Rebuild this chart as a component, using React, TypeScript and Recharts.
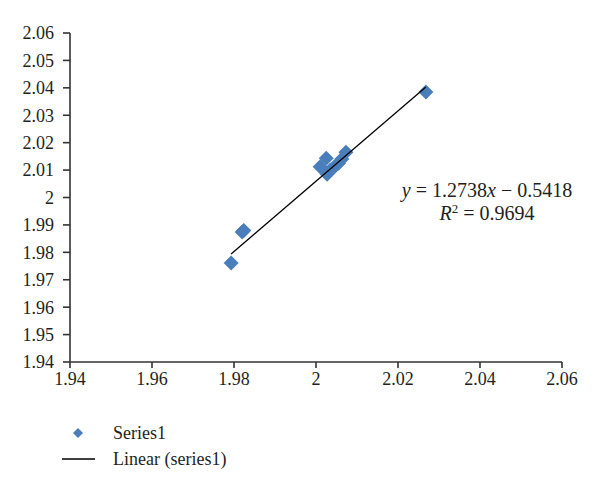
import React from "react";
import { ScatterChart, Scatter, XAxis, YAxis, Legend } from "recharts";

const xValues = [1.9793, 1.982, 1.9824, 2.001, 2.0025, 2.0027, 2.0035, 2.0045, 2.0055, 2.0063, 2.0073, 2.0268];
const yValues = [1.9761, 1.9874, 1.988, 2.0112, 2.0143, 2.0085, 2.01, 2.0112, 2.0125, 2.014, 2.0165, 2.0385];

// trend line end points
const trendX = [1.9793, 2.0268];
const trendY = [1.9794, 2.0403];

const xTicks = [1.94, 1.96, 1.98, 2, 2.02, 2.04, 2.06];
const yTicks = [1.94, 1.95, 1.96, 1.97, 1.98, 1.99, 2, 2.01, 2.02, 2.03, 2.04, 2.05, 2.06];

const seriesName = "Series1";
const trendName = "Linear (series1)";
const equation = ["y", " = 1.2738", "x", " \u2212 0.5418"];
const rSquared = "0.9694";

const BLUE = "#4a7ebb";
const AXIS = "#333333";
const FONT = "'Liberation Serif', 'DejaVu Serif', serif";

const points = xValues.map((x, i) => ({ x, y: yValues[i] }));
const trend = trendX.map((x, i) => ({ x, y: trendY[i] }));

const fmt = (v: number) => String(Number(v.toFixed(2)));

const Diamond = (props: any) => {
  const { cx, cy } = props;
  if (cx == null || cy == null) return <g />;
  const r = 7.5;
  return (
    <polygon
      points={`${cx},${cy - r} ${cx + r},${cy} ${cx},${cy + r} ${cx - r},${cy}`}
      fill={BLUE}
    />
  );
};

const NoDot = () => <g />;

const LegendBox = () => (
  <div style={{ fontFamily: FONT, fontSize: 18, color: "#231f20", lineHeight: "26px" }}>
    <div style={{ display: "flex", alignItems: "center" }}>
      <svg width={46} height={26}>
        <polygon points="16,8 21,13 16,18 11,13" fill={BLUE} />
      </svg>
      <span style={{ marginLeft: 5 }}>{seriesName}</span>
    </div>
    <div style={{ display: "flex", alignItems: "center" }}>
      <svg width={46} height={26}>
        <line x1={0} y1={13} x2={33} y2={13} stroke="#000" strokeWidth={1.3} />
      </svg>
      <span style={{ marginLeft: 5 }}>{trendName}</span>
    </div>
  </div>
);

export default function App() {
  return (
    <div style={{ position: "absolute", left: 0, top: 0, width: 600, height: 490, background: "#fff" }}>
      <ScatterChart width={600} height={490} margin={{ top: 33, right: 38, left: 0, bottom: 98 }}>
        <XAxis
          type="number"
          dataKey="x"
          domain={[1.94, 2.06]}
          ticks={xTicks}
          tickFormatter={fmt}
          height={30}
          tickSize={6}
          tickMargin={4}
          stroke={AXIS}
          strokeWidth={1.6}
          tick={{ fill: "#231f20", fontSize: 18, fontFamily: FONT }}
          allowDataOverflow
        />
        <YAxis
          type="number"
          dataKey="y"
          domain={[1.94, 2.06]}
          ticks={yTicks}
          tickFormatter={fmt}
          width={70}
          tickSize={7}
          tickMargin={9}
          stroke={AXIS}
          strokeWidth={1.6}
          tick={{ fill: "#231f20", fontSize: 18, fontFamily: FONT }}
          allowDataOverflow
        />
        <Scatter
          name={seriesName}
          data={points}
          shape={Diamond}
          isAnimationActive={false}
        />
        <Scatter
          name={trendName}
          data={trend}
          shape={NoDot}
          line={{ stroke: "#000", strokeWidth: 1.3 }}
          isAnimationActive={false}
        />
        <Legend
          layout="horizontal"
          verticalAlign="middle"
          align="center"
          content={<LegendBox />}
          wrapperStyle={{ top: 420, left: 62, width: 260 }}
        />
        <text x={487} y={197} textAnchor="middle" fontFamily={FONT} fontSize={20} fill="#231f20">
          <tspan fontStyle="italic">{equation[0]}</tspan>
          <tspan>{equation[1]}</tspan>
          <tspan fontStyle="italic">{equation[2]}</tspan>
          <tspan>{equation[3]}</tspan>
        </text>
        <text x={487} y={220} textAnchor="middle" fontFamily={FONT} fontSize={20} fill="#231f20">
          <tspan fontStyle="italic">R</tspan>
          <tspan dy={-7} fontSize={13}>2</tspan>
          <tspan dy={7}>{` = ${rSquared}`}</tspan>
        </text>
      </ScatterChart>
    </div>
  );
}
